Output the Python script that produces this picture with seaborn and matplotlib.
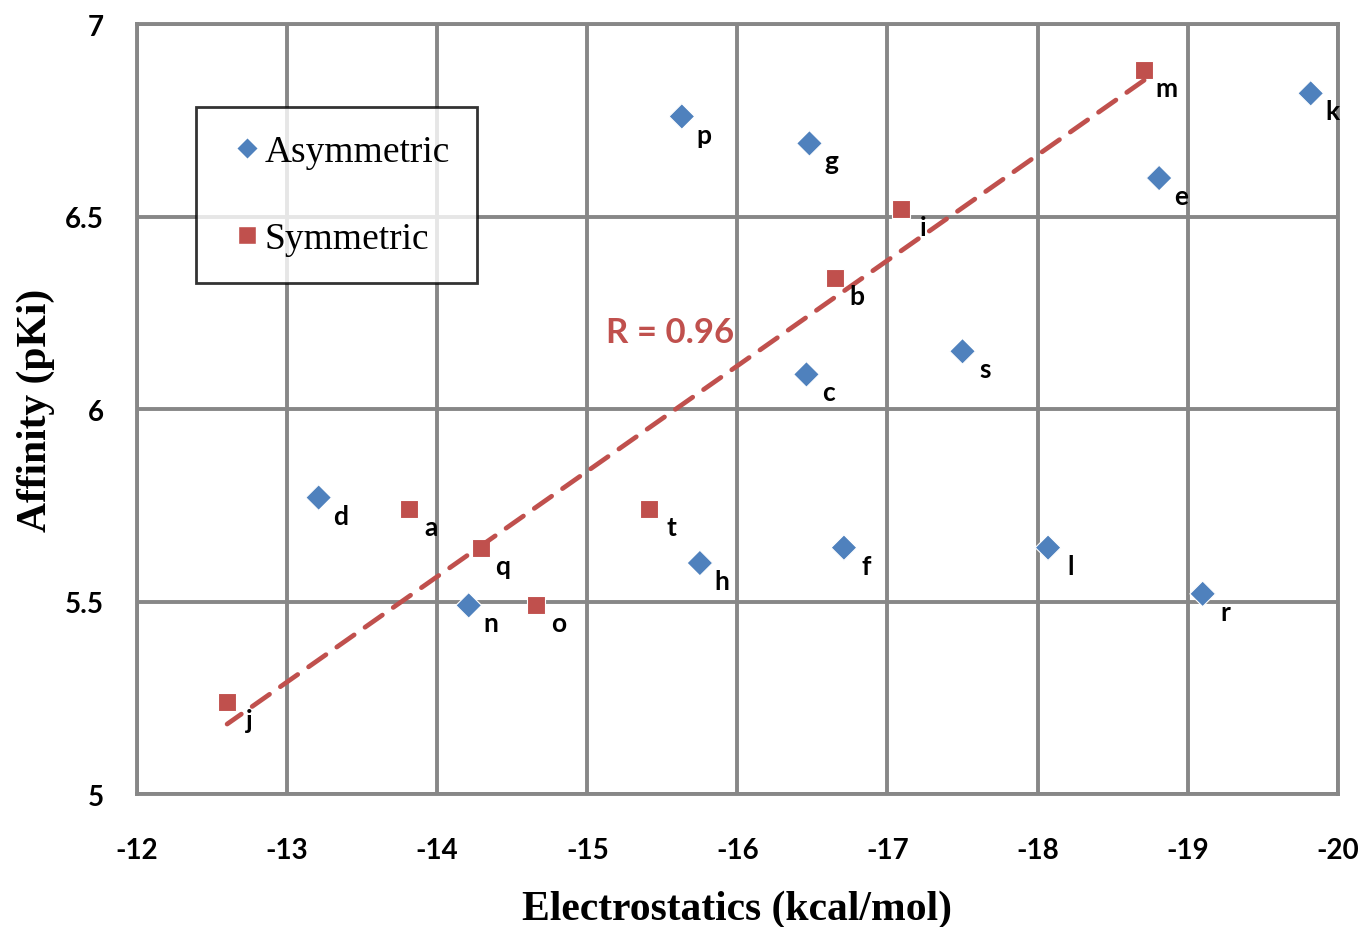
import numpy as np
import pandas as pd
import matplotlib
matplotlib.use("Agg")
import matplotlib.pyplot as plt
import seaborn as sns
from matplotlib.lines import Line2D

asym_labels = ["d", "n", "h", "p", "g", "c", "f", "s", "l", "e", "r", "k"]
asym_x = [-13.21, -14.21, -15.75, -15.63, -16.48, -16.46, -16.71, -17.50, -18.07, -18.81, -19.10, -19.82]
asym_y = [5.77, 5.49, 5.60, 6.76, 6.69, 6.09, 5.64, 6.15, 5.64, 6.60, 5.52, 6.82]

sym_labels = ["j", "a", "q", "o", "t", "b", "i", "m"]
sym_x = [-12.60, -13.81, -14.29, -14.66, -15.41, -16.65, -17.09, -18.71]
sym_y = [5.24, 5.74, 5.64, 5.49, 5.74, 6.34, 6.52, 6.88]

x_ticks = [-12, -13, -14, -15, -16, -17, -18, -19, -20]
y_ticks = [5, 5.5, 6, 6.5, 7]
y_tick_labels = ["5", "5.5", "6", "6.5", "7"]

blue = "#4F81BD"
red = "#C0504D"

df = pd.DataFrame({
    "x": asym_x + sym_x,
    "y": asym_y + sym_y,
    "label": asym_labels + sym_labels,
    "group": ["Asymmetric"] * len(asym_x) + ["Symmetric"] * len(sym_x),
})

sns.set_style("white")
fig = plt.figure(figsize=(13.61, 9.28), dpi=100)
ax = fig.add_axes([0.1007, 0.1433, 0.8822, 0.8297])

sns.scatterplot(data=df, x="x", y="y", hue="group", style="group",
                markers={"Asymmetric": "D", "Symmetric": "s"},
                palette={"Asymmetric": blue, "Symmetric": red},
                s=170, edgecolor="white", linewidth=0.8, ax=ax, legend=False, zorder=4)

# regression line for symmetric
coef = np.polyfit(sym_x, sym_y, 1)
xl = np.array([min(sym_x), max(sym_x)])
ax.plot(xl, np.polyval(coef, xl), ls=(0, (4.5, 2.8)), color=red, lw=3.4, zorder=5,
        solid_capstyle="round", dash_capstyle="round")

for lx, ly, lab in zip(df["x"], df["y"], df["label"]):
    ax.annotate(lab, (lx, ly), xytext=(16, -13), textcoords="offset points",
                fontsize=19, fontweight="bold", family="Lato", color="black",
                ha="center", va="center", zorder=6)

ax.text(-15.55, 6.2, "R = 0.96", color=red, fontsize=25, fontweight="bold",
        family="Lato", ha="center", va="center", zorder=6)

ax.set_xlim(-12, -20)
ax.set_ylim(5, 7)
ax.set_xticks(x_ticks)
ax.set_xticklabels([str(t) for t in x_ticks])
ax.set_yticks(y_ticks)
ax.set_yticklabels(y_tick_labels)
ax.grid(True, color="#878787", lw=2.8)
ax.set_axisbelow(True)
for sp in ax.spines.values():
    sp.set_color("#878787")
    sp.set_linewidth(2.8)
ax.tick_params(axis="x", which="major", length=7, width=2.8, color="#878787",
               direction="out", labelsize=20, pad=24, labelcolor="black")
ax.tick_params(axis="y", which="major", length=0, labelsize=20, pad=24, labelcolor="black")
for t in ax.get_xticklabels() + ax.get_yticklabels():
    t.set_fontweight("bold")
    t.set_family("Lato")

ax.set_xlabel("Electrostatics (kcal/mol)", family="Liberation Serif", fontweight="bold",
              fontsize=30, labelpad=19, color="black")
ax.set_ylabel("Affinity (pKi)", family="Liberation Serif", fontweight="bold",
              fontsize=30, labelpad=7, color="black")

# legend
handles = [
    Line2D([], [], marker="D", ls="none", color=blue, markeredgecolor="white", markersize=11),
    Line2D([], [], marker="s", ls="none", color=red, markeredgecolor="white", markersize=13),
]
leg = ax.legend(handles, ["Asymmetric", "Symmetric"], loc="upper left",
                bbox_to_anchor=(0.049, 0.892), frameon=True, fancybox=False,
                prop={"family": "Liberation Serif", "size": 27},
                labelspacing=1.42, handletextpad=-0.16, borderpad=0.72, borderaxespad=0,
                handlelength=1.28)
leg.get_frame().set_edgecolor("black")
leg.get_frame().set_linewidth(2.0)
for txt in leg.get_texts():
    txt.set_color("black")

fig.savefig("out.png", dpi=100)
